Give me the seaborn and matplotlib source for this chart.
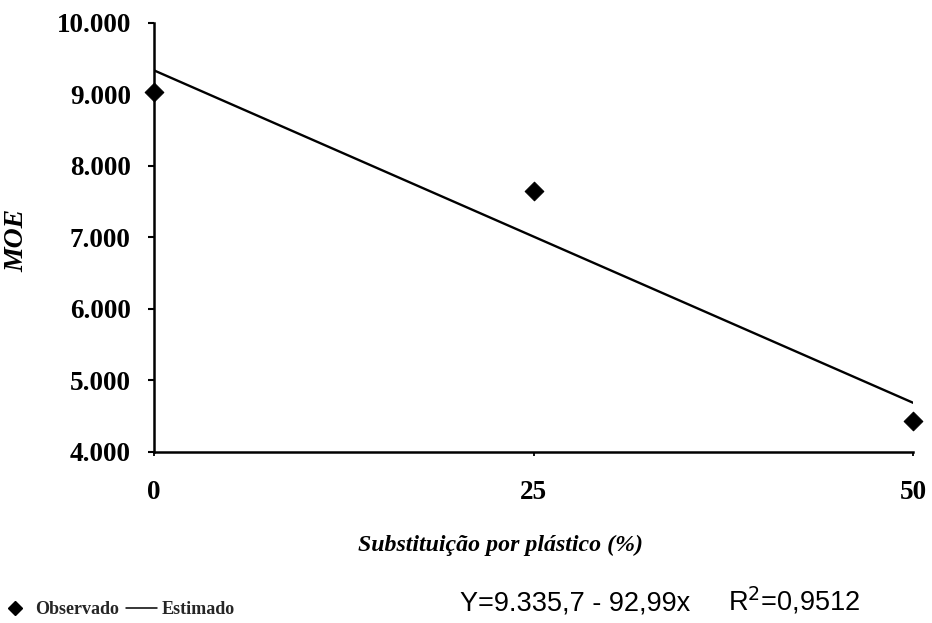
import matplotlib
matplotlib.use("Agg")
import matplotlib.pyplot as plt
import seaborn as sns
import pandas as pd
from matplotlib.ticker import FuncFormatter
from matplotlib.lines import Line2D

# Data
x_obs = [0, 25, 50]
y_obs = [9035, 7650, 4440]
x_est = [0, 50]
y_est = [9335.7, 4686.2]
x_ticks = [0, 25, 50]
y_ticks = [4000, 5000, 6000, 7000, 8000, 9000, 10000]
equation = "Y=9.335,7 - 92,99x"
r2_text = r"R$^2$=0,9512"

sns.set_theme(style="white")
plt.rcParams['font.family'] = ['Liberation Serif', 'DejaVu Serif']

fig = plt.figure(figsize=(9.32, 6.23), dpi=100)
ax = fig.add_axes([0.165, 0.2745, 0.815, 0.689])

obs = pd.DataFrame({"x": x_obs, "y": y_obs})
est = pd.DataFrame({"x": x_est, "y": y_est})

sns.lineplot(data=est, x="x", y="y", ax=ax, color="black", lw=1.7)
sns.scatterplot(data=obs, x="x", y="y", ax=ax, marker="D", s=90, color="black",
                edgecolor="black", zorder=5, clip_on=False)

ax.set_xlim(0, 50)
ax.set_ylim(4000, 10000)
ax.set_xticks(x_ticks)
ax.set_yticks(y_ticks)
ax.yaxis.set_major_formatter(FuncFormatter(lambda v, p: f"{int(v):,}".replace(",", ".")))

for s in ["top", "right"]:
    ax.spines[s].set_visible(False)
for s in ["left", "bottom"]:
    ax.spines[s].set_color("black")
    ax.spines[s].set_linewidth(1.8)

ax.tick_params(axis="y", which="both", left=True, length=4.5, width=1.5, color="black",
               labelsize=19.5, pad=12)
ax.tick_params(axis="x", which="both", bottom=True, length=3, width=1.3, color="black",
               labelsize=19.5, pad=17)
for lab in ax.get_xticklabels() + ax.get_yticklabels():
    lab.set_fontweight("bold")
    lab.set_color("black")

ax.set_xlabel("Substituição por plástico (%)", fontsize=17.2, fontweight="bold",
              fontstyle="italic", color="black")
ax.xaxis.set_label_coords(0.457, -0.217)
ax.xaxis.label.set_verticalalignment("center")
ax.set_ylabel("MOE", fontsize=20, fontweight="bold", fontstyle="italic",
              color="black")
ax.yaxis.set_label_coords(-0.1805, 0.492)
ax.yaxis.label.set_verticalalignment("center")
ax.yaxis.label.set_horizontalalignment("center")

handles = [Line2D([], [], marker="D", color="black", ls="none", ms=7),
           Line2D([], [], color="black", lw=1.1)]
fig.legend(handles, ["Observado", "Estimado"], loc="center left",
           bbox_to_anchor=(0.0, 0.021), ncol=2, frameon=False,
           prop={"family": "Liberation Serif", "weight": "bold", "size": 13},
           handlelength=1.7, handletextpad=0.25, columnspacing=0.4,
           borderpad=0.0, borderaxespad=0.0)

fig.text(460 / 932, 0.0193, equation, family="Liberation Sans",
         fontsize=19.5, va="baseline", ha="left", color="black")
fig.text(728 / 932, 0.0193, r2_text, family="Liberation Sans",
         fontsize=19.5, va="baseline", ha="left", color="black")

fig.savefig("out.png", dpi=100, facecolor="white")
